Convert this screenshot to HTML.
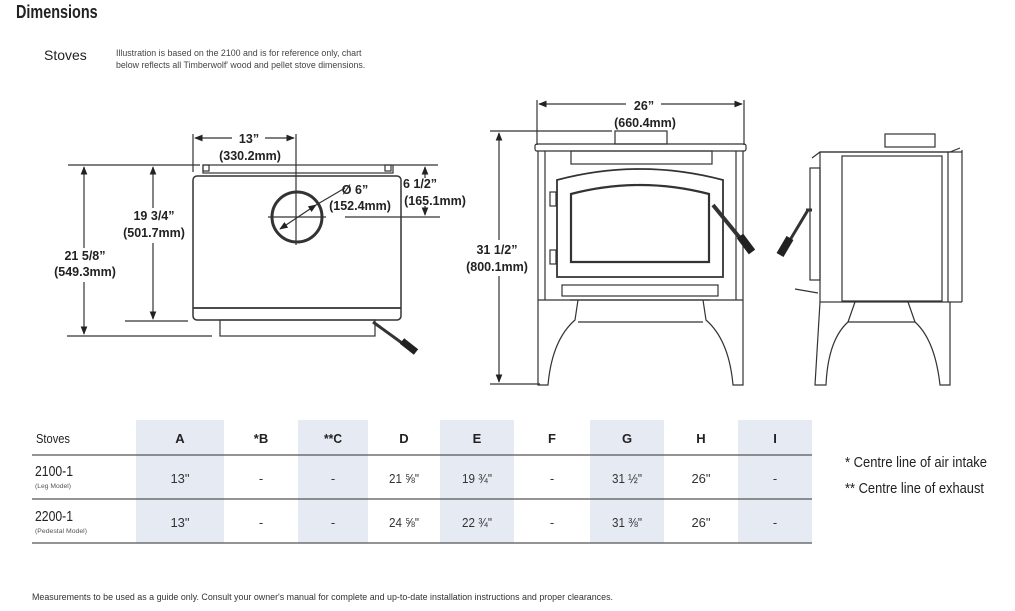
<!DOCTYPE html>
<html><head><meta charset="utf-8"><style>
html,body{margin:0;padding:0;background:#fff;width:1015px;height:611px;overflow:hidden;position:relative}
.n{font-family:"Liberation Sans",sans-serif;position:absolute;color:#222;white-space:nowrap;transform-origin:0 0}
svg{position:absolute;left:0;top:0}
</style></head><body>
<div class="n" style="left:16px;top:2px;font-size:18px;font-weight:bold;color:#222;transform:scaleX(0.8)">Dimensions</div>
<div class="n" style="left:44px;top:47px;font-size:14px">Stoves</div>
<div class="n" style="left:116px;top:47px;font-size:9px;line-height:12px;color:#444;transform:scaleX(0.98)">Illustration is based on the 2100 and is for reference only, chart<br>below reflects all Timberwolf' wood and pellet stove dimensions.</div>

<svg width="1015" height="611" viewBox="0 0 1015 611" font-family="Liberation Sans, sans-serif">
<defs><marker id="a" viewBox="0 0 10 10" refX="9" refY="5" markerWidth="7" markerHeight="7" orient="auto-start-reverse"><path d="M0,1 L10,5 L0,9 z" fill="#222"/></marker></defs>
<g stroke="#333" fill="none" stroke-width="1.2">
<line x1="193" y1="134" x2="193" y2="172"/><line x1="296" y1="134" x2="296" y2="245"/>
<line x1="195" y1="138" x2="232" y2="138" marker-start="url(#a)"/><line x1="265" y1="138" x2="294" y2="138" marker-end="url(#a)"/>
<line x1="68" y1="165" x2="200" y2="165"/><line x1="393" y1="165" x2="438" y2="165"/>
<rect x="203" y="165" width="190" height="8"/><rect x="203" y="165" width="6" height="6"/><rect x="385" y="165" width="6" height="6"/>
<rect x="193" y="176" width="208" height="144" rx="4" stroke-width="1.5"/>
<line x1="193" y1="308" x2="401" y2="308" stroke-width="1.8"/>
<rect x="220" y="320" width="155" height="16"/>
<line x1="67" y1="336" x2="212" y2="336"/><line x1="125" y1="321" x2="188" y2="321"/>
<circle cx="297" cy="217" r="25" stroke-width="3"/>
<line x1="268" y1="217" x2="326" y2="217"/>
<line x1="280" y1="229" x2="316" y2="205" marker-start="url(#a)" marker-end="url(#a)"/>
<line x1="316" y1="205" x2="345" y2="188"/>
<line x1="345" y1="217" x2="440" y2="217"/>
<line x1="84" y1="167" x2="84" y2="248" marker-start="url(#a)"/><line x1="84" y1="282" x2="84" y2="334" marker-end="url(#a)"/>
<line x1="153" y1="167" x2="153" y2="208" marker-start="url(#a)"/><line x1="153" y1="243" x2="153" y2="319" marker-end="url(#a)"/>
<line x1="425" y1="167" x2="425" y2="178" marker-start="url(#a)"/><line x1="425" y1="206" x2="425" y2="215" marker-end="url(#a)"/>
<path d="M373,322 L402,343" stroke-width="3"/><path d="M402,341 L416,352" stroke="#222" stroke-width="7"/>
<line x1="537" y1="100" x2="537" y2="145"/><line x1="744" y1="100" x2="744" y2="145"/>
<line x1="539" y1="104" x2="626" y2="104" marker-start="url(#a)"/><line x1="661" y1="104" x2="742" y2="104" marker-end="url(#a)"/>
<line x1="490" y1="131" x2="612" y2="131"/><line x1="490" y1="384" x2="540" y2="384"/>
<line x1="499" y1="133" x2="499" y2="240" marker-start="url(#a)"/><line x1="499" y1="276" x2="499" y2="382" marker-end="url(#a)"/>
<rect x="615" y="131" width="52" height="13"/>
<rect x="535" y="144" width="211" height="7" rx="2"/>
<path d="M538,151 V300 H743 V151"/><path d="M545,151 V300 M736,151 V300"/>
<rect x="571" y="151" width="141" height="13"/>
<path d="M557,277 V180 Q640,158 723,180 V277 Z" stroke-width="1.8"/>
<path d="M571,262 V194 Q640,176 709,194 V262 Z" stroke-width="2.2"/>
<rect x="550" y="192" width="6" height="14"/><rect x="550" y="250" width="6" height="14"/>
<rect x="562" y="285" width="156" height="11"/><line x1="570" y1="300" x2="710" y2="300"/>
<path d="M538,300 L538,385 H548 Q552,340 575,320 L578,300"/>
<path d="M743,300 L743,385 H733 Q729,340 706,320 L703,300"/>
<line x1="578" y1="322" x2="703" y2="322"/>
<path d="M713,205 L740,238" stroke-width="4"/><path d="M740,236 L752,252" stroke="#222" stroke-width="8"/>
<rect x="885" y="134" width="50" height="13"/>
<path d="M812,158 L820,152 H950 L960,148"/><rect x="820" y="152" width="128" height="150"/>
<rect x="842" y="156" width="100" height="145"/><line x1="948" y1="152" x2="962" y2="152"/><line x1="962" y1="150" x2="962" y2="302"/><line x1="948" y1="302" x2="962" y2="302"/>
<rect x="810" y="168" width="10" height="112"/>
<path d="M806,210 L812,210 M808,210 L790,240" stroke-width="3"/><path d="M790,238 L780,255" stroke="#222" stroke-width="8"/>
<path d="M820,302 L815,385 H826 Q828,340 848,322 L855,302"/>
<path d="M950,302 L950,385 H940 Q935,340 915,322 L908,302"/>
<line x1="848" y1="322" x2="915" y2="322"/>
<line x1="795" y1="289" x2="818" y2="293"/>
</g>
<g font-size="12.5" font-weight="bold" fill="#222" text-anchor="middle">
<text x="249" y="143">13”</text><text x="250" y="160">(330.2mm)</text>
<text x="355" y="194">Ø 6”</text><text x="360" y="210">(152.4mm)</text>
<text x="420" y="188">6 1/2”</text><text x="435" y="205">(165.1mm)</text>
<text x="154" y="220">19 3/4”</text><text x="154" y="237">(501.7mm)</text>
<text x="85" y="260">21 5/8”</text><text x="85" y="276">(549.3mm)</text>
<text x="644" y="110">26”</text><text x="645" y="127">(660.4mm)</text>
<text x="497" y="254">31 1/2”</text><text x="497" y="271">(800.1mm)</text>
</g>
<g fill="#e6eaf2"><rect x="136" y="420" width="88" height="123"/><rect x="298" y="420" width="70" height="123"/><rect x="440" y="420" width="74" height="123"/><rect x="590" y="420" width="74" height="123"/><rect x="738" y="420" width="74" height="123"/></g>
<g stroke="#555" stroke-width="1.3"><line x1="32" y1="455" x2="812" y2="455"/><line x1="32" y1="499" x2="812" y2="499"/><line x1="32" y1="543" x2="812" y2="543"/></g>
<g fill="#222" text-anchor="middle">
<g font-size="13" font-weight="bold"><text x="180" y="443">A</text><text x="261" y="443">*B</text><text x="333" y="443" textLength="18" lengthAdjust="spacingAndGlyphs">**C</text><text x="404" y="443">D</text><text x="477" y="443">E</text><text x="552" y="443">F</text><text x="627" y="443">G</text><text x="701" y="443">H</text><text x="775" y="443">I</text></g>
<g font-size="13" fill="#333"><text x="180" y="483">13"</text><text x="261" y="483">-</text><text x="333" y="483">-</text><text x="404" y="483" textLength="30" lengthAdjust="spacingAndGlyphs">21 ⅝"</text><text x="477" y="483" textLength="30" lengthAdjust="spacingAndGlyphs">19 ¾"</text><text x="552" y="483">-</text><text x="627" y="483" textLength="30" lengthAdjust="spacingAndGlyphs">31 ½"</text><text x="701" y="483">26"</text><text x="775" y="483">-</text>
<text x="180" y="527">13"</text><text x="261" y="527">-</text><text x="333" y="527">-</text><text x="404" y="527" textLength="30" lengthAdjust="spacingAndGlyphs">24 ⅝"</text><text x="477" y="527" textLength="30" lengthAdjust="spacingAndGlyphs">22 ¾"</text><text x="552" y="527">-</text><text x="627" y="527" textLength="30" lengthAdjust="spacingAndGlyphs">31 ⅜"</text><text x="701" y="527">26"</text><text x="775" y="527">-</text></g>
<g text-anchor="start"><text x="36" y="443" font-size="13" textLength="34" lengthAdjust="spacingAndGlyphs">Stoves</text>
<text x="35" y="476" font-size="15" textLength="38" lengthAdjust="spacingAndGlyphs">2100-1</text><text x="35" y="488" font-size="6.5" fill="#555" textLength="36" lengthAdjust="spacingAndGlyphs">(Leg Model)</text>
<text x="35" y="521" font-size="15" textLength="38" lengthAdjust="spacingAndGlyphs">2200-1</text><text x="35" y="533" font-size="6.5" fill="#555" textLength="52" lengthAdjust="spacingAndGlyphs">(Pedestal Model)</text>
<text x="845" y="467" font-size="15" textLength="142" lengthAdjust="spacingAndGlyphs">* Centre line of air intake</text>
<text x="845" y="493" font-size="15" textLength="139" lengthAdjust="spacingAndGlyphs">** Centre line of exhaust</text>
<text x="32" y="600" font-size="9" fill="#333" textLength="581" lengthAdjust="spacingAndGlyphs">Measurements to be used as a guide only. Consult your owner's manual for complete and up-to-date installation instructions and proper clearances.</text></g>
</g>
</svg>
</body></html>
